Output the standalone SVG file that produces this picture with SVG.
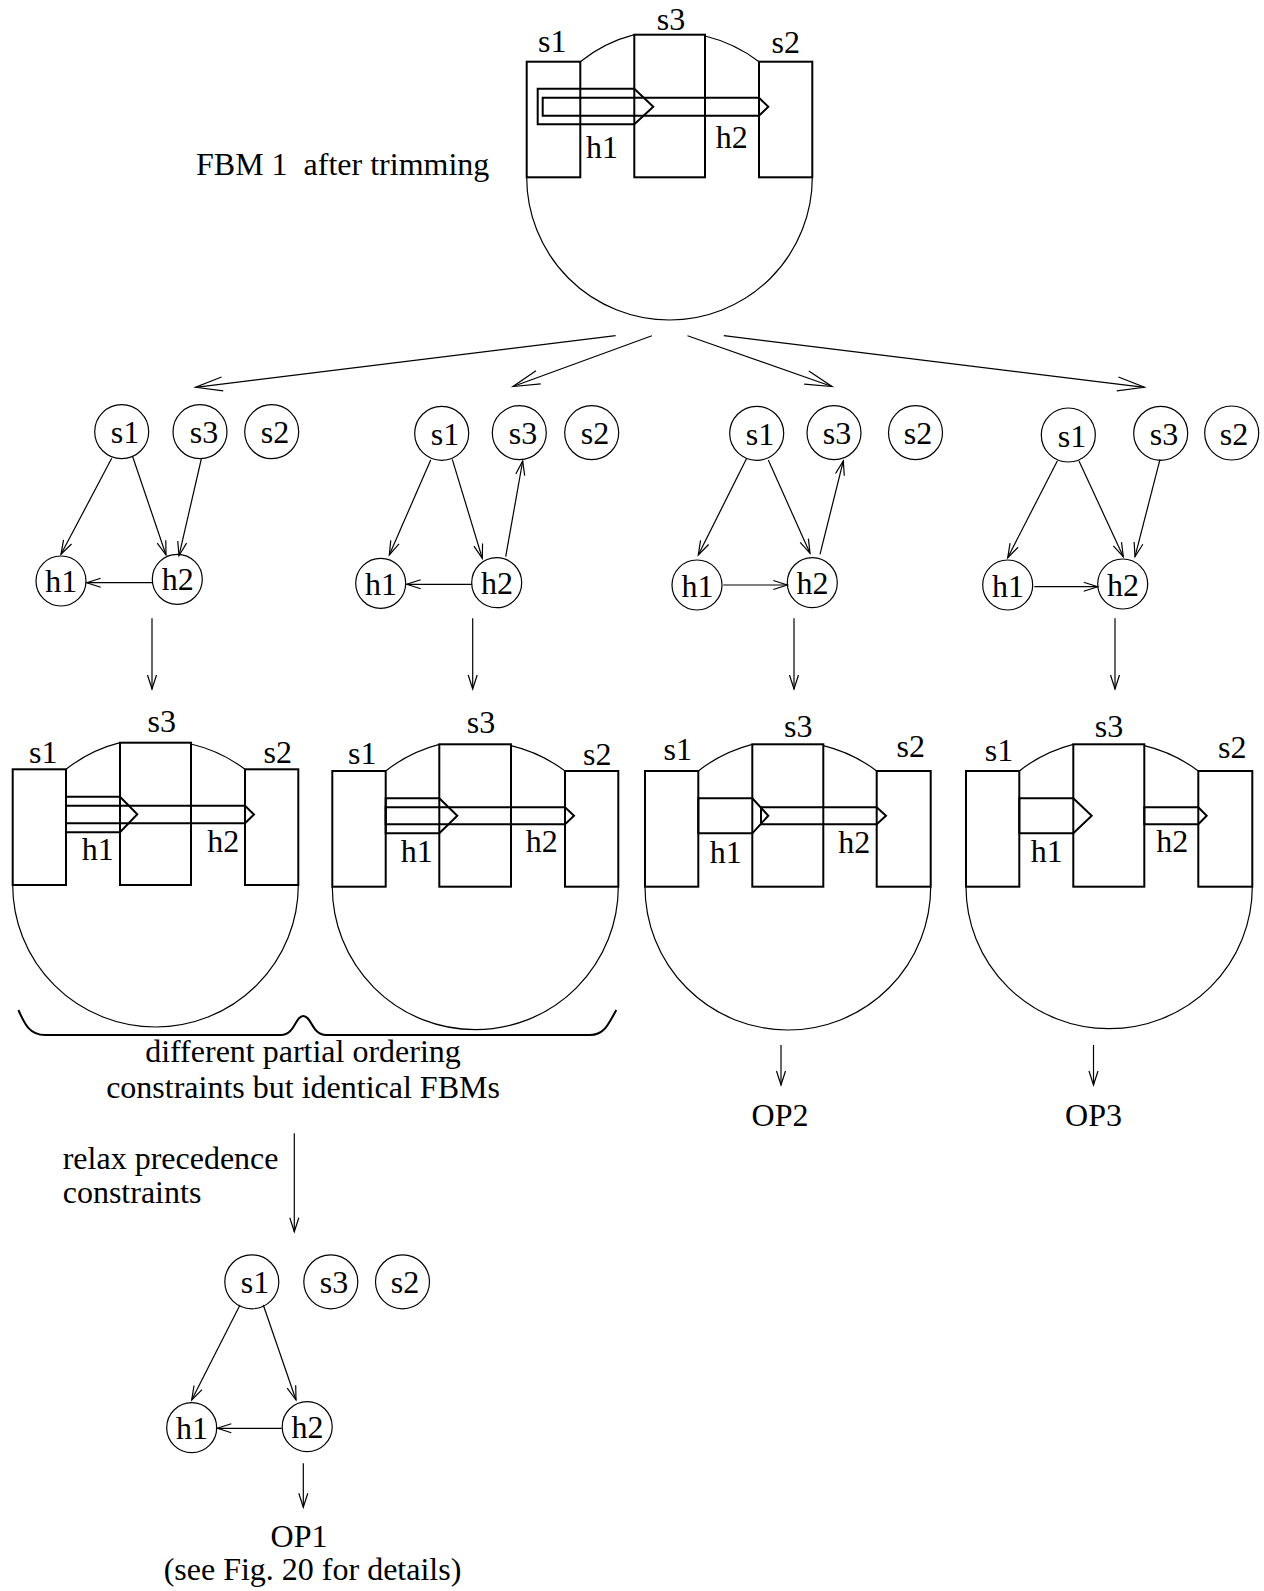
<svg xmlns="http://www.w3.org/2000/svg" width="1264" height="1591" viewBox="0 0 1264 1591">
<style>
text{font-family:"Liberation Serif","Times New Roman",serif;font-size:32px;fill:#000;text-anchor:middle}
.lft{text-anchor:start}
.blob{fill:none;stroke:#000;stroke-width:1.2}
.bar{fill:#fff;stroke:#000;stroke-width:2}
.hp{fill:none;stroke:#000;stroke-width:2}
.nd{fill:#fff;stroke:#000;stroke-width:1.2}
.e{fill:none;stroke:#000;stroke-width:1.2;marker-end:url(#ah)}
.eb{fill:none;stroke:#000;stroke-width:1.2;marker-end:url(#ahb)}
.br{fill:none;stroke:#000;stroke-width:2}
</style>
<defs>
<marker id="ah" markerUnits="userSpaceOnUse" markerWidth="20" markerHeight="14" refX="14" refY="5" orient="auto" overflow="visible">
<path d="M0,0.5 L14,5 L0,9.5" fill="none" stroke="#000" stroke-width="1.2"/>
</marker>
<marker id="ahb" markerUnits="userSpaceOnUse" markerWidth="30" markerHeight="18" refX="27" refY="8" orient="auto" overflow="visible">
<path d="M0,1 L27,8 L0,15" fill="none" stroke="#000" stroke-width="1.2"/>
</marker>
</defs>
<rect x="0" y="0" width="1264" height="1591" fill="#fff"/>

<g id="fbm-top">
<path class="blob" d="M526.7,177.3 A142.8,142.7 0 0 0 812.3,177.3 M580.3,61.7 A145,145 0 0 1 634.3,34.7 M705,36 A145,145 0 0 1 759,61.7"/>
<rect class="bar" x="526.7" y="61.7" width="53.6" height="115.6"/>
<rect class="bar" x="634.3" y="34.7" width="70.7" height="142.6"/>
<rect class="bar" x="759" y="61.7" width="53.3" height="115.6"/>
<polygon class="hp" points="537.7,88.7 634.3,88.7 653.3,106.7 634.3,124.3 537.7,124.3"/>
<polygon class="hp" points="542.7,97.7 759,97.7 768.3,106.7 759,115.7 542.7,115.7"/>
<text x="552.3" y="51.7">s1</text>
<text x="671" y="30">s3</text>
<text x="785.7" y="52.7">s2</text>
<text x="602" y="158.3">h1</text>
<text x="731.7" y="148.3">h2</text>
</g>
<g id="label-fbm1">
<text class="lft" x="196" y="174.5" xml:space="preserve">FBM 1  after trimming</text>
</g>

<g id="fbm-a">
<path class="blob" d="M12.7,885 A142.8,142 0 0 0 298.3,885 M66,769.3 A145,145 0 0 1 120,742.7 M191,744 A145,145 0 0 1 245,769.3"/>
<rect class="bar" x="12.7" y="769.3" width="53.3" height="115.7"/>
<rect class="bar" x="120" y="742.7" width="71" height="142.3"/>
<rect class="bar" x="245" y="769.3" width="53.3" height="115.7"/>
<polygon class="hp" points="66,796.7 120,796.7 137.3,814.3 120,832.3 66,832.3"/>
<polygon class="hp" points="66,805.7 245,805.7 254,814.5 245,823.3 66,823.3"/>
<text x="43.3" y="762.7">s1</text>
<text x="161.7" y="731.7">s3</text>
<text x="277.7" y="763.3">s2</text>
<text x="97.7" y="860">h1</text>
<text x="223.3" y="851.7">h2</text>
</g>

<g id="fbm-b">
<path class="blob" d="M332.3,886.7 A143,143 0 0 0 618.3,886.7 M385.7,771 A145,145 0 0 1 439.3,744.3 M511,745.6 A145,145 0 0 1 565,771"/>
<rect class="bar" x="332.3" y="771" width="53.4" height="115.7"/>
<rect class="bar" x="439.3" y="744.3" width="71.7" height="142.4"/>
<rect class="bar" x="565" y="771" width="53.3" height="115.7"/>
<polygon class="hp" points="385.7,798.3 439.3,798.3 457.3,815.7 439.3,833.3 385.7,833.3"/>
<polygon class="hp" points="385.7,807.3 565,807.3 574,815.7 565,824.3 385.7,824.3"/>
<text x="362.3" y="764">s1</text>
<text x="481" y="733.3">s3</text>
<text x="597.3" y="765">s2</text>
<text x="416.7" y="861.7">h1</text>
<text x="541.7" y="851.7">h2</text>
</g>

<g id="fbm-c">
<path class="blob" d="M645,886.7 A142.85,143.3 0 0 0 930.7,886.7 M698.3,771 A145,145 0 0 1 752.3,744.3 M823.3,745.6 A145,145 0 0 1 876.7,771"/>
<rect class="bar" x="645" y="771" width="53.3" height="115.7"/>
<rect class="bar" x="752.3" y="744.3" width="71" height="142.4"/>
<rect class="bar" x="876.7" y="771" width="54" height="115.7"/>
<polygon class="hp" points="698.3,798.3 752.3,798.3 768.3,815.7 752.3,833.3 698.3,833.3"/>
<polygon class="hp" points="761,807.3 876.7,807.3 886,815.7 876.7,824.3 761,824.3"/>
<text x="677.7" y="760">s1</text>
<text x="798.3" y="737.3">s3</text>
<text x="910.7" y="757.3">s2</text>
<text x="725.7" y="863.3">h1</text>
<text x="854.3" y="852.7">h2</text>
</g>

<g id="fbm-d">
<path class="blob" d="M966,886.7 A143.15,142 0 0 0 1252.3,886.7 M1019.3,771 A145,145 0 0 1 1073.3,744.3 M1144.3,745.6 A145,145 0 0 1 1198.3,771"/>
<rect class="bar" x="966" y="771" width="53.3" height="115.7"/>
<rect class="bar" x="1073.3" y="744.3" width="71" height="142.4"/>
<rect class="bar" x="1198.3" y="771" width="54" height="115.7"/>
<polygon class="hp" points="1019.3,798.3 1073.3,798.3 1091.7,815.7 1073.3,833.3 1019.3,833.3"/>
<polygon class="hp" points="1144.3,807.3 1198.3,807.3 1206.7,815.7 1198.3,824.3 1144.3,824.3"/>
<text x="999" y="760.7">s1</text>
<text x="1109" y="736.7">s3</text>
<text x="1232.3" y="758.3">s2</text>
<text x="1046.7" y="861.7">h1</text>
<text x="1172.3" y="851.7">h2</text>
</g>

<g id="brace">
<path class="br" d="M18.4,1010 C25,1025 30,1035 45,1035 L281,1035 C295,1035 295,1016 303.3,1016 C311.5,1016 312,1035 326,1035 L590,1035 C604,1035 608,1025 616.3,1010"/>
<text x="303" y="1061.7">different partial ordering</text>
<text x="303" y="1098">constraints but identical FBMs</text>
</g>

<g id="graph1">
<circle class="nd" cx="121.7" cy="431.7" r="27"/><text x="125" y="443">s1</text>
<circle class="nd" cx="200" cy="431.7" r="27"/><text x="204" y="443">s3</text>
<circle class="nd" cx="271.7" cy="431.7" r="27"/><text x="275" y="443">s2</text>
<circle class="nd" cx="61" cy="581" r="25"/><text x="61.3" y="592">h1</text>
<circle class="nd" cx="177.3" cy="579.3" r="25"/><text x="177.8" y="590">h2</text>
</g>
<g id="graph2">
<circle class="nd" cx="441.7" cy="433.3" r="27"/><text x="445" y="444.5">s1</text>
<circle class="nd" cx="519.3" cy="432.7" r="27"/><text x="523" y="444">s3</text>
<circle class="nd" cx="591.7" cy="432.7" r="27"/><text x="595" y="444">s2</text>
<circle class="nd" cx="380.7" cy="583.3" r="25"/><text x="381" y="594.5">h1</text>
<circle class="nd" cx="496.7" cy="582.7" r="25"/><text x="497" y="594">h2</text>
</g>
<g id="graph3">
<circle class="nd" cx="756.7" cy="433.3" r="27"/><text x="760" y="444.5">s1</text>
<circle class="nd" cx="834" cy="432.7" r="27"/><text x="837" y="444">s3</text>
<circle class="nd" cx="915.5" cy="432.7" r="27"/><text x="918" y="444">s2</text>
<circle class="nd" cx="697" cy="585" r="25"/><text x="697.5" y="596.5">h1</text>
<circle class="nd" cx="812.3" cy="582.7" r="25"/><text x="812.5" y="594">h2</text>
</g>
<g id="graph4">
<circle class="nd" cx="1068.3" cy="435" r="27"/><text x="1072" y="446.5">s1</text>
<circle class="nd" cx="1160.7" cy="433.3" r="27"/><text x="1164" y="444.5">s3</text>
<circle class="nd" cx="1231.7" cy="433" r="27"/><text x="1234" y="444.5">s2</text>
<circle class="nd" cx="1007.7" cy="585" r="25"/><text x="1008" y="596.5">h1</text>
<circle class="nd" cx="1122.7" cy="584" r="25"/><text x="1123" y="595.5">h2</text>
</g>
<g id="graph5">
<circle class="nd" cx="251.8" cy="1281.8" r="27"/><text x="255" y="1293">s1</text>
<circle class="nd" cx="330.8" cy="1281.8" r="27"/><text x="334" y="1293">s3</text>
<circle class="nd" cx="402.5" cy="1281.8" r="27"/><text x="405" y="1293">s2</text>
<circle class="nd" cx="191.7" cy="1427.7" r="25"/><text x="192" y="1439">h1</text>
<circle class="nd" cx="307.2" cy="1426.7" r="25"/><text x="307.5" y="1438">h2</text>
</g>

<g id="texts">
<text class="lft" x="62.7" y="1169.3">relax precedence</text>
<text class="lft" x="62.7" y="1203.3">constraints</text>
<text x="299" y="1547">OP1</text>
<text x="312.5" y="1580">(see Fig. 20 for details)</text>
<text x="780" y="1126">OP2</text>
<text x="1093.5" y="1126">OP3</text>
</g>

<g id="connectors">
<line class="eb" x1="615.6" y1="335.7" x2="195.6" y2="387.3"/>
<line class="eb" x1="651.9" y1="335.7" x2="513" y2="386.5"/>
<line class="eb" x1="687.5" y1="335.7" x2="832" y2="386.5"/>
<line class="eb" x1="723.8" y1="335.7" x2="1144.4" y2="387.3"/>

<line class="e" x1="111.7" y1="458.3" x2="61" y2="554.3"/>
<line class="e" x1="132.7" y1="456.7" x2="166" y2="555"/>
<line class="e" x1="201.3" y1="459" x2="179" y2="555.7"/>
<line class="e" x1="152.3" y1="582.7" x2="86.7" y2="582.7"/>
<line class="e" x1="152" y1="618.3" x2="152" y2="689"/>

<line class="e" x1="430.7" y1="460" x2="389.3" y2="555"/>
<line class="e" x1="452.3" y1="459.3" x2="482.3" y2="558.3"/>
<line class="e" x1="505.7" y1="556.7" x2="522.7" y2="461"/>
<line class="e" x1="471.7" y1="584.3" x2="406.7" y2="584.3"/>
<line class="e" x1="472.7" y1="618.3" x2="472.7" y2="689"/>

<line class="e" x1="746.7" y1="458.3" x2="698.3" y2="555"/>
<line class="e" x1="768.3" y1="460" x2="810" y2="553.3"/>
<line class="e" x1="820" y1="554.3" x2="843.3" y2="461"/>
<line class="e" x1="723.3" y1="585" x2="787.3" y2="585"/>
<line class="e" x1="794" y1="618.3" x2="794" y2="689"/>

<line class="e" x1="1057.3" y1="461" x2="1007.7" y2="557.7"/>
<line class="e" x1="1079" y1="461" x2="1123.3" y2="556.7"/>
<line class="e" x1="1160" y1="459.3" x2="1135" y2="556.7"/>
<line class="e" x1="1034.3" y1="586.7" x2="1097.7" y2="586.7"/>
<line class="e" x1="1115" y1="618.3" x2="1115" y2="689"/>

<line class="e" x1="294.3" y1="1133.3" x2="294.3" y2="1231.7"/>
<line class="e" x1="240" y1="1305" x2="191.7" y2="1400"/>
<line class="e" x1="263.3" y1="1305" x2="296" y2="1400"/>
<line class="e" x1="281.7" y1="1428.3" x2="217.3" y2="1428.3"/>
<line class="e" x1="303.3" y1="1463.3" x2="303.3" y2="1507.3"/>

<line class="e" x1="781" y1="1045" x2="781" y2="1085"/>
<line class="e" x1="1093.5" y1="1045" x2="1093.5" y2="1085"/>
</g>
</svg>
